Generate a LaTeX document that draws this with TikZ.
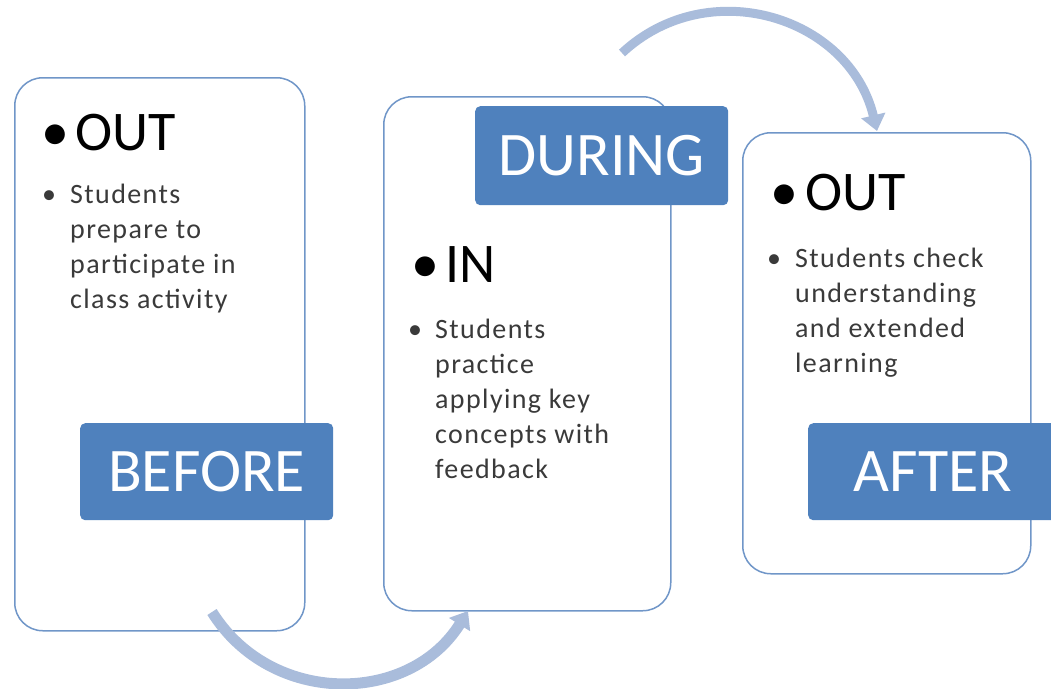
\documentclass[tikz,border=0pt]{standalone}
\usepackage{fontspec}
\setmainfont{Carlito}
\newfontfamily\bodyfont[LetterSpace=5]{Carlito}
\usepackage{tikz}
\usetikzlibrary{arrows.meta}
\definecolor{cardline}{HTML}{7096C8}
\definecolor{tagfill}{HTML}{4F81BD}
\definecolor{flow}{HTML}{A9BCDB}
\definecolor{bodytext}{HTML}{3A3A3A}

\begin{document}
\begin{tikzpicture}[x=1pt,y=1pt,
    card/.style={draw=cardline, line width=1.5pt, fill=white,
        rounded corners=28pt, anchor=north west, inner sep=0pt},
    tag/.style={fill=tagfill, text=white, rounded corners=5pt,
        anchor=north west, inner sep=0pt,
        font=\fontsize{62}{62}\selectfont},
    head/.style={anchor=base west, inner sep=0pt,
        font=\fontsize{56}{60}\selectfont},
    dot/.style={anchor=base west, inner sep=0pt, text=bodytext,
        font=\bodyfont\fontsize{28}{35}\selectfont},
    body/.style={anchor=base west, inner sep=0pt, align=left, text=bodytext,
        font=\bodyfont\fontsize{28}{35}\selectfont},
    flowline/.style={draw=flow, line width=11pt,
        -{Triangle[width=24pt,length=16pt]}}
]

\useasboundingbox (0,0) rectangle (1051,-688);

\node[card,
    minimum width=290pt,
    minimum height=553pt
] (before) at (14,-77) {};

\node[card,
    minimum width=287pt,
    minimum height=514pt
] (during) at (383,-96) {};

\node[card,
    minimum width=288pt,
    minimum height=441pt
] (after) at (742,-132) {};

\node[tag,
    minimum width=253pt,
    minimum height=97pt
] (beforetag) at (80,-423) { BEFORE };

\node[tag,
    minimum width=253pt,
    minimum height=99pt
] (duringtag) at (475,-106) { DURING };

\node[tag,
    minimum width=250pt,
    minimum height=97pt
] (aftertag) at (808,-423) { AFTER };

% base of a body node is its last line
\node[head] (beforehead) at (41,-150) { \makebox[34pt][l]{•}OUT };
\node[dot] (beforedot) at (42,-203) { • };
\node[body] (beforetext) at (70,-308) { Students\\prepare to\\participate in\\class activity };

\node[head] (duringhead) at (411,-282) { \makebox[34pt][l]{•}IN };
\node[dot] (duringdot) at (408,-338) { • };
\node[body] (duringtext) at (435,-478) { Students\\practice\\applying key\\concepts with\\feedback };

\node[head] (afterhead) at (770,-210) { \makebox[35pt][l]{•}OUT };
\node[dot] (afterdot) at (767,-267) { • };
\node[body] (aftertext) at (795,-372) { Students check\\understanding\\and extended\\learning };

\coordinate (flowAstart) at (212,-612);
\coordinate (flowAend) at (468,-611);
\coordinate (flowBstart) at (622,-53);
\coordinate (flowBend) at (877,-131);

\draw[flowline] (flowAstart) to[out=-58, in=238, looseness=1.11] (flowAend);
\draw[flowline, line width=9pt] (flowBstart) to[out=43, in=103.5, looseness=1.13] (flowBend);

\end{tikzpicture}
\end{document}
